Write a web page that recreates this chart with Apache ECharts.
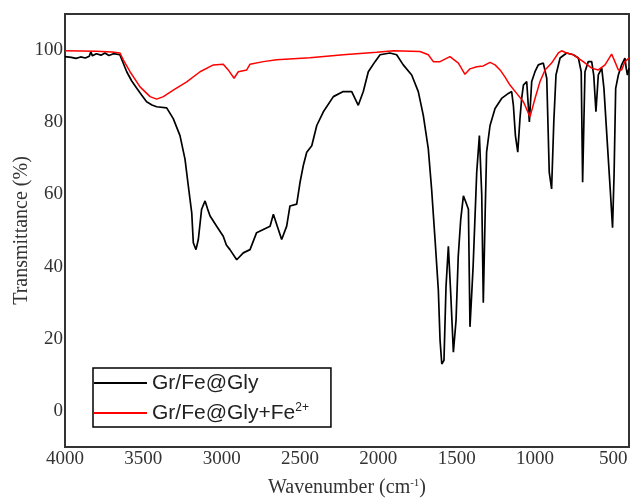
<!DOCTYPE html>
<html>
<head>
<meta charset="utf-8">
<script src="https://cdn.jsdelivr.net/npm/echarts@6/dist/echarts.min.js"></script>
<style>
html, body { margin: 0; padding: 0; background: #fff; }
#chart { width: 631px; height: 498px; }
</style>
</head>
<body>
<div id="chart"></div>
<script>
// Gr/Fe@Gly spectrum (wavenumber, transmittance)
var blackWn = [4000, 3960, 3930, 3900, 3870, 3845, 3835, 3825, 3800, 3770, 3745, 3720, 3690, 3650, 3638, 3606, 3575, 3542, 3510, 3479, 3445, 3415, 3351, 3309, 3266, 3234, 3213, 3191, 3181, 3164, 3149, 3128, 3106, 3090, 3074, 3032, 2990, 2970, 2947, 2904, 2862, 2819, 2777, 2734, 2691, 2670, 2645, 2617, 2585, 2564, 2521, 2500, 2479, 2457, 2425, 2393, 2351, 2287, 2224, 2170, 2128, 2096, 2064, 2021, 1989, 1926, 1883, 1841, 1787, 1745, 1713, 1681, 1660, 1638, 1617, 1606, 1595, 1581, 1568, 1553, 1538, 1521, 1504, 1490, 1474, 1457, 1440, 1425, 1415, 1395, 1372, 1355, 1340, 1330, 1318, 1309, 1287, 1255, 1213, 1170, 1149, 1138, 1125, 1110, 1096, 1085, 1074, 1053, 1036, 1021, 1000, 979, 947, 925, 909, 894, 880, 866, 840, 798, 755, 723, 705, 696, 688, 681, 660, 638, 625, 611, 596, 574, 560, 540, 520, 505, 495, 485, 468, 447, 426, 418, 410, 400];
var blackT = [98.2, 98.0, 97.7, 98.1, 97.8, 98.3, 99.5, 98.4, 99.0, 98.6, 99.2, 98.5, 99.0, 98.7, 98.2, 94, 91.5, 89.4, 87.5, 85.7, 84.8, 84.3, 84.0, 81, 76.3, 69.8, 62.4, 54.9, 46.6, 44.7, 47.5, 55.9, 58.2, 56, 54, 51.2, 48.4, 46, 44.7, 41.9, 43.8, 44.7, 49.4, 50.3, 51.2, 54.5, 51.2, 47.5, 51.2, 56.8, 57.3, 63.3, 68, 71.7, 73.5, 79.1, 82.9, 87.1, 88.5, 88.5, 84.7, 88.5, 94, 96.8, 98.7, 99.2, 98.7, 95.9, 93.1, 88.5, 81.9, 72.6, 61.5, 47.5, 33.5, 19.6, 13, 14, 34.4, 45.6, 32.6, 16.3, 25.1, 42.8, 53.1, 59.6, 57.7, 55.9, 23.3, 40, 66.1, 76.3, 60, 30, 55, 71.7, 79.1, 83.8, 86.6, 88, 88.5, 84.7, 76.3, 71.7, 81, 86.6, 90.3, 91.3, 80.1, 91.3, 94, 95.9, 96.4, 92.2, 66.1, 61.5, 80.1, 93.1, 97.8, 99.2, 98.7, 97.8, 94, 63.4, 80, 94, 96.8, 96.8, 93, 82.9, 93.1, 95, 89.4, 75.4, 61.5, 50.8, 66, 89.4, 93.1, 95.9, 97.8, 95, 93.1, 95];

// Gr/Fe@Gly+Fe2+ spectrum
var redWn = [4000, 3800, 3700, 3649, 3628, 3585, 3521, 3457, 3415, 3372, 3309, 3223, 3138, 3053, 2990, 2958, 2921, 2894, 2840, 2819, 2734, 2649, 2436, 2224, 2010, 1904, 1734, 1681, 1649, 1606, 1543, 1489, 1447, 1415, 1372, 1330, 1287, 1255, 1223, 1191, 1160, 1117, 1074, 1032, 1000, 968, 936, 894, 851, 830, 798, 755, 692, 638, 596, 553, 511, 490, 468, 447, 426, 400];
var redT = [99.8, 99.7, 99.5, 99.2, 97.3, 94, 89.8, 87.1, 86.4, 87.1, 88.9, 91.2, 94, 95.9, 96.1, 94.5, 92.2, 94, 94.5, 96.1, 96.8, 97.3, 97.9, 98.7, 99.4, 99.8, 99.6, 98.7, 96.8, 96.8, 98.2, 96.4, 93.3, 94.8, 95.4, 95.6, 96.6, 95.9, 94.5, 92.5, 90.3, 88, 85.7, 81.5, 86.6, 91.3, 94.5, 96.4, 99.2, 99.8, 99.2, 98.7, 96.8, 95, 94.5, 95.9, 98.9, 96.8, 94.5, 94.5, 96.8, 97.8];

var seriesNames = ['Gr/Fe@Gly', 'Gr/Fe@Gly+Fe2+'];
var xTicks = [4000, 3500, 3000, 2500, 2000, 1500, 1000, 500];
var yTicks = [0, 20, 40, 60, 80, 100];

function pairs(xs, ys) {
    var out = [];
    for (var i = 0; i < xs.length; i++) {
        out.push([xs[i], ys[i]]);
    }
    return out;
}

var serif = '"Liberation Serif", "Times New Roman", serif';
var sans = '"Liberation Sans", Arial, sans-serif';

var myChart = echarts.init(document.getElementById('chart'), null, { renderer: 'canvas' });
myChart.setOption({
    animation: false,
    backgroundColor: '#fff',
    grid: {
        left: 65, right: 2, top: 14, bottom: 51,
        containLabel: false,
        outerBoundsMode: 'none',
        show: true,
        borderColor: '#333',
        borderWidth: 2
    },
    legend: {
        left: 93,
        top: 368,
        orient: 'vertical',
        icon: 'rect',
        itemWidth: 53,
        itemHeight: 2,
        itemGap: 8,
        padding: [4, 22, 3, 1],
        borderColor: '#000',
        borderWidth: 1.5,
        textStyle: {
            fontFamily: sans,
            fontSize: 21,
            color: '#222',
            lineHeight: 22,
            rich: {
                sup: { fontFamily: sans, fontSize: 12, color: '#222', verticalAlign: 'top', lineHeight: 12 }
            }
        },
        formatter: function(name) {
            return name === seriesNames[1] ? 'Gr/Fe@Gly+Fe{sup|2+}' : name;
        },
        data: seriesNames
    },
    xAxis: {
        type: 'value',
        inverse: true,
        min: 400,
        max: 4000,
        name: 'Wavenumber (cm{sup|-1})',
        nameLocation: 'middle',
        nameGap: 31,
        nameTextStyle: {
            fontFamily: serif,
            fontSize: 20,
            color: '#333',
            rich: {
                sup: { fontFamily: serif, fontSize: 11, color: '#333', verticalAlign: 'top', lineHeight: 10 }
            }
        },
        axisLine: { show: false },
        axisTick: { show: false },
        splitLine: { show: false },
        axisLabel: {
            customValues: xTicks,
            fontFamily: serif,
            fontSize: 19,
            color: '#333',
            margin: 3,
            formatter: function(v) { return String(v); }
        }
    },
    yAxis: {
        type: 'value',
        min: -10,
        max: 110,
        name: 'Transmittance (%)',
        nameLocation: 'middle',
        nameGap: 33,
        nameMoveOverlap: false,
        nameTextStyle: {
            fontFamily: serif,
            fontSize: 20,
            color: '#333'
        },
        axisLine: { show: false },
        axisTick: { show: false },
        splitLine: { show: false },
        axisLabel: {
            customValues: yTicks,
            fontFamily: serif,
            fontSize: 19,
            color: '#333',
            margin: 2,
            formatter: function(v) { return String(v); }
        }
    },
    series: [{
        name: seriesNames[0],
        type: 'line',
        symbol: 'none',
        color: '#000',
        lineStyle: { width: 1.7, color: '#000' },
        data: pairs(blackWn, blackT),
        z: 2
    }, {
        name: seriesNames[1],
        type: 'line',
        symbol: 'none',
        color: '#f00',
        lineStyle: { width: 1.5, color: '#f00' },
        data: pairs(redWn, redT),
        z: 3
    }]
});
</script>
</body>
</html>
